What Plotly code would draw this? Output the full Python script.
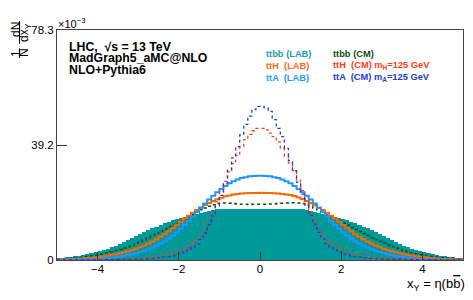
import numpy as np
import plotly.graph_objects as go

# ---- data (values in units of 1e-3), 100 bins from -5 to 5 ----
bin_lo, bin_hi, n_bins = -5.0, 5.0, 100

ttbb_lab = [0.6,0.7,0.9,1.0,1.2,1.4,1.7,2.0,2.3,2.6, 3.0,3.4,3.9,4.4,4.9,5.5,6.1,6.8,7.5,8.2,
            8.9,9.6,10.2,10.8,11.4,12.0,12.5,13.0,13.5,14.0, 14.4,14.8,15.2,15.5,15.8,16.1,16.4,16.7,17.0,17.2,
            17.3,17.4,17.4,17.3,17.3,17.2,17.2,17.3,17.3,17.2,
            17.2,17.3,17.2,17.3,17.2,17.3,17.4,17.3,17.4,17.3, 17.2,17.0,16.7,16.4,16.1,15.8,15.5,15.1,14.8,14.4,
            14.0,13.5,13.0,12.5,12.0,11.4,10.8,10.2,9.6,8.9, 8.2,7.5,6.8,6.2,5.5,4.9,4.4,3.9,3.4,3.0,
            2.6,2.3,2.0,1.7,1.4,1.2,1.0,0.9,0.7,0.6]

ttbb_cm = [0.3,0.4,0.5,0.6,0.7,0.8,1.0,1.2,1.4,1.6, 1.8,2.1,2.4,2.8,3.2,3.6,4.1,4.6,5.1,5.7,
           6.3,6.9,7.6,8.3,9.0,9.7,10.4,11.2,11.9,12.6, 13.3,14.0,14.8,15.6,16.4,17.1,17.7,18.3,18.8,19.2,
           19.4,19.4,19.3,19.2,19.1,19.0,19.0,18.9,19.0,19.0,
           19.0,19.0,19.1,19.1,19.2,19.3,19.4,19.5,19.5,19.4, 19.2,18.8,18.3,17.7,17.0,16.3,15.6,14.8,14.0,13.3,
           12.6,11.9,11.1,10.4,9.7,9.0,8.3,7.6,6.9,6.3, 5.7,5.1,4.6,4.1,3.6,3.2,2.8,2.4,2.1,1.8,
           1.6,1.4,1.2,1.0,0.8,0.7,0.6,0.5,0.4,0.3]

tth_lab = [0.15,0.2,0.25,0.3,0.35,0.45,0.55,0.65,0.8,0.95, 1.1,1.3,1.5,1.75,2.0,2.3,2.6,3.0,3.4,3.8,
           4.3,4.9,5.6,6.3,7.1,7.9,8.8,9.8,10.8,11.9, 13.0,14.1,15.1,16.1,17.0,17.9,18.7,19.4,20.1,20.7,
           21.2,21.7,22.0,22.3,22.5,22.6,22.7,22.8,22.8,22.8,
           22.9,22.8,22.8,22.7,22.6,22.5,22.3,22.1,21.8,21.3, 20.8,20.1,19.4,18.6,17.8,17.0,16.1,15.1,14.1,13.0,
           11.9,10.8,9.8,8.8,7.9,7.1,6.3,5.6,4.9,4.3, 3.8,3.4,3.0,2.6,2.3,2.0,1.75,1.5,1.3,1.1,
           0.95,0.8,0.65,0.55,0.45,0.35,0.3,0.25,0.2,0.15]

tta_lab = [0.05,0.06,0.08,0.1,0.12,0.15,0.2,0.25,0.3,0.37, 0.45,0.55,0.7,0.85,1.0,1.2,1.4,1.7,2.0,2.3,
           2.7,3.1,3.6,4.2,4.9,5.6,6.4,7.3,8.3,9.4, 10.6,11.9,13.3,14.8,16.3,17.8,19.2,20.6,21.9,23.1,
           24.2,25.2,26.1,26.8,27.4,27.9,28.2,28.5,28.6,28.7,
           28.7,28.6,28.5,28.2,27.9,27.4,26.8,26.1,25.2,24.2, 23.1,21.9,20.6,19.2,17.8,16.3,14.8,13.3,11.9,10.6,
           9.4,8.3,7.3,6.4,5.6,4.9,4.2,3.6,3.1,2.7, 2.3,2.0,1.7,1.4,1.2,1.0,0.85,0.7,0.55,0.45,
           0.37,0.3,0.25,0.2,0.15,0.12,0.1,0.08,0.06,0.05]

tth_cm = [0.02,0.02,0.03,0.03,0.04,0.05,0.06,0.07,0.08,0.1, 0.12,0.14,0.17,0.2,0.24,0.28,0.33,0.4,0.47,0.55,
          0.65,0.75,0.87,1.0,1.2,1.4,1.6,1.9,2.3,2.8, 3.3,3.9,4.6,5.5,6.6,8.2,10.3,13.0,16.2,19.8,
          23.2,26.8,30.0,32.8,35.6,38.6,41.0,42.8,44.0,44.8,
          44.8,44.3,43.2,42.0,40.2,38.0,35.4,33.0,30.4,27.2, 23.6,20.0,16.4,13.2,10.4,8.3,6.7,5.6,4.7,3.9,
          3.3,2.8,2.3,1.9,1.6,1.4,1.2,1.0,0.87,0.75, 0.65,0.55,0.47,0.4,0.33,0.28,0.24,0.2,0.17,0.14,
          0.12,0.1,0.08,0.07,0.06,0.05,0.04,0.03,0.03,0.02]

tta_cm = [0.01,0.01,0.01,0.02,0.02,0.02,0.03,0.03,0.04,0.05, 0.06,0.07,0.08,0.1,0.12,0.14,0.17,0.2,0.24,0.28,
          0.33,0.39,0.46,0.55,0.65,0.78,0.95,1.15,1.4,1.75, 2.2,2.8,3.5,4.3,5.4,7.0,9.2,12.0,15.0,18.4,
          22.0,26.0,30.6,34.8,38.6,42.6,46.2,49.0,51.2,52.3,
          52.3,51.8,50.6,47.8,44.8,42.0,38.0,33.8,30.4,26.4, 22.4,18.8,15.2,12.2,9.4,7.2,5.6,4.4,3.5,2.8,
          2.2,1.75,1.4,1.15,0.95,0.78,0.65,0.55,0.46,0.39, 0.33,0.28,0.24,0.2,0.17,0.14,0.12,0.1,0.08,0.07,
          0.06,0.05,0.04,0.03,0.03,0.02,0.02,0.02,0.01,0.01]

y_tick_vals = [0, 39.15, 78.3]
y_tick_text = ["0", "39.2", "78.3"]
x_tick_vals = [-4, -2, 0, 2, 4]
x_tick_text = ["\u22124", "\u22122", "0", "2", "4"]

# ---- geometry (page body has an 8px margin, so shift everything) ----
OFF = 8
W, H = 473 - OFF, 300 - OFF
L, T = 57 - OFF, 30 - OFF
PW, PH = 406, 230
R, B = W - L - PW, H - T - PH

def px(x):
    return (x - OFF - L) / PW

def py(y):
    return (T + PH - (y - OFF)) / PH

edges = np.linspace(bin_lo, bin_hi, n_bins + 1)
centers = 0.5 * (edges[:-1] + edges[1:])
width = edges[1] - edges[0]

def steps(vals):
    xs = list(edges)
    ys = list(vals) + [vals[-1]]
    return xs, ys

FONT = "Liberation Sans, Arial, sans-serif"

fig = go.Figure()
fig.add_trace(go.Bar(x=centers, y=ttbb_lab, width=width,
                     marker=dict(color="#009999", line=dict(width=0)),
                     showlegend=False))

def add_step(vals, color, dash, lw):
    xs, ys = steps(vals)
    fig.add_trace(go.Scatter(x=xs, y=ys, mode="lines", line_shape="hv",
                             line=dict(color=color, dash=dash, width=lw),
                             showlegend=False, hoverinfo="skip"))

add_step(ttbb_cm, "#0a4d0a", "dot", 1.5)
add_step(tth_lab, "#ff6600", "solid", 2)
add_step(tta_lab, "#1e96ff", "solid", 2)
add_step(tth_cm, "#ff3c14", "dot", 1.3)
add_step(tta_cm, "#1e3cd2", "dot", 1.3)

ann = []
def text(x, y, s, size=12, color="black", anchor="left", bold=False, angle=0):
    ann.append(dict(x=px(x), y=py(y), xref="paper", yref="paper", text=("<b>%s</b>" % s) if bold else s,
                    showarrow=False, xanchor=anchor, yanchor="middle", textangle=angle,
                    font=dict(family=FONT, size=size, color=color)))

# header
text(67, 47, "LHC,  \u221as = 13 TeV", 12.3, bold=True)
text(67, 58.5, "MadGraph5_aMC@NLO", 12.3, bold=True)
text(67, 70, "NLO+Pythia6", 12.3, bold=True)

# legend texts
text(264, 54, "ttbb (LAB)", 9.3, "#1a9e9e", bold=True)
text(264, 66.5, "ttH  (LAB)", 9.3, "#ff6a14", bold=True)
text(264, 78, "ttA  (LAB)", 9.3, "#1e9aff", bold=True)
text(331, 54, "ttbb (CM)", 9.3, "#0a4d0a", bold=True)
text(331, 65, "ttH  (CM) m<sub>H</sub>=125 GeV", 9.3, "#ff3c14", bold=True)
text(331, 77, "ttA  (CM) m<sub>A</sub>=125 GeV", 9.3, "#1e3cd2", bold=True)

# exponent
text(56, 23, "\u00d710<sup>\u22123</sup>", 11)

# x title
text(467, 284.5, "x<sub>Y</sub> = \u03b7(b<span style='text-decoration:overline'>b</span>)", 13, anchor="right")

# y title (rotated fraction pieces), kept inside the drawable page area
text(16, 54, "1", 12, anchor="center", angle=-90)
text(24, 53, "N", 12, anchor="center", angle=-90)
text(16, 30, "dN", 12, anchor="center", angle=-90)
text(25, 33, "dx<sub>Y</sub>", 12, anchor="center", angle=-90)

shapes = [
    dict(type="line", xref="paper", yref="paper", x0=px(19.5), x1=px(19.5), y0=py(48.5), y1=py(58), line=dict(color="black", width=1)),
    dict(type="line", xref="paper", yref="paper", x0=px(19.5), x1=px(19.5), y0=py(21), y1=py(44), line=dict(color="black", width=1)),
]

fig.update_layout(
    width=W, height=H, autosize=False,
    margin=dict(l=L, r=R, t=T, b=B, pad=0),
    paper_bgcolor="white", plot_bgcolor="white",
    bargap=0, barmode="overlay",
    annotations=ann, shapes=shapes,
    font=dict(family=FONT, size=11, color="black"),
)
fig.update_xaxes(range=[bin_lo, bin_hi], tickvals=x_tick_vals, ticktext=x_tick_text,
                 ticks="inside", ticklen=8, tickcolor="#333", tickwidth=1,
                 showline=True, linecolor="#444", linewidth=1, mirror=True,
                 showgrid=False, zeroline=False, layer="above traces",
                 tickfont=dict(family=FONT, size=11.5), automargin=False,
                 ticklabelstandoff=-2)
fig.update_yaxes(range=[0, 78.3], tickvals=y_tick_vals, ticktext=y_tick_text,
                 ticks="inside", ticklen=10, tickcolor="#333", tickwidth=1,
                 showline=True, linecolor="#444", linewidth=1, mirror=True,
                 showgrid=False, zeroline=False, layer="above traces",
                 tickfont=dict(family=FONT, size=11.5), automargin=False)

fig.write_html("out.html")
